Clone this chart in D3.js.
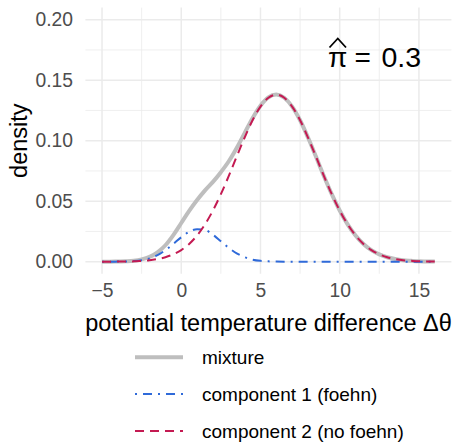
<!DOCTYPE html>
<html>
<head>
<meta charset="utf-8">
<script src="https://cdn.jsdelivr.net/npm/d3@7"></script>
<style>
  body { margin: 0; background: #fff; }
  svg text { font-family: "Liberation Sans", Arial, sans-serif; }
</style>
</head>
<body>
<div id="chart"></div>
<script>
// values (step 0.5 from -5 to 16)
const xs = d3.range(-5, 16.01, 0.5);
const component1 = [
  0, 0, 0.0001, 0.0002, 0.0005, 0.0012, 0.0027, 0.0054, 0.0095, 0.0147,
  0.0202, 0.0248, 0.0269, 0.0262, 0.0223, 0.0169, 0.0114, 0.0069, 0.0037, 0.0017,
  0.0007, 0.0003, 0.0001, 0, 0, 0, 0, 0, 0, 0,
  0, 0, 0, 0, 0, 0, 0, 0, 0, 0,
  0, 0, 0
];
const component2 = [
  0, 0, 0.0001, 0.0002, 0.0003, 0.0007, 0.0012, 0.0022, 0.0037, 0.0061,
  0.0096, 0.0147, 0.0217, 0.0309, 0.0423, 0.0558, 0.0709, 0.0869, 0.1026, 0.1169,
  0.1282, 0.1355, 0.1380, 0.1355, 0.1282, 0.1169, 0.1026, 0.0869, 0.0709, 0.0558,
  0.0423, 0.0309, 0.0217, 0.0147, 0.0096, 0.0061, 0.0037, 0.0022, 0.0012, 0.0007,
  0.0003, 0.0002, 0.0001
];
const mixture = [
  0, 0, 0.0002, 0.0004, 0.0008, 0.0019, 0.0040, 0.0078, 0.0136, 0.0220,
  0.0320, 0.0420, 0.0510, 0.0590, 0.0660, 0.0740, 0.0830, 0.0940, 0.1063, 0.1186,
  0.1289, 0.1358, 0.1381, 0.1355, 0.1282, 0.1169, 0.1026, 0.0869, 0.0709, 0.0558,
  0.0423, 0.0309, 0.0217, 0.0147, 0.0096, 0.0061, 0.0037, 0.0022, 0.0012, 0.0007,
  0.0003, 0.0002, 0.0001
];
const xTicks = [-5, 0, 5, 10, 15];
const xMinor = [-2.5, 2.5, 7.5, 12.5];
const yTicks = [0, 0.05, 0.10, 0.15, 0.20];
const yMinor = [0.025, 0.075, 0.125, 0.175];
const seriesNames = ['mixture', 'component 1 (foehn)', 'component 2 (no foehn)'];
const piHat = 0.3;

const width = 454, height = 442;
const tickColor = '#4d4d4d';
const gridColor = '#ebebeb';

const styles = [
  { color: '#bebebe', width: 4, dash: null },
  { color: '#2f6ad9', width: 2, dash: '2,6,9,6' },
  { color: '#c41a52', width: 2, dash: '9,6' }
];

const svg = d3.select('#chart').append('svg')
  .attr('width', width)
  .attr('height', height);

const x = d3.scaleLinear().domain([-6.05, 17.05]).range([85.4, 451.4]);
const y = d3.scaleLinear().domain([-0.01, 0.21]).range([273.8, 7.6]);

// grid
const grid = svg.append('g');
grid.selectAll('.ymin').data(yMinor).enter().append('line')
  .attr('x1', x.range()[0]).attr('x2', x.range()[1])
  .attr('y1', d => y(d)).attr('y2', d => y(d))
  .attr('stroke', gridColor).attr('stroke-width', 0.8);
grid.selectAll('.xmin').data(xMinor).enter().append('line')
  .attr('y1', y.range()[0]).attr('y2', y.range()[1])
  .attr('x1', d => x(d)).attr('x2', d => x(d))
  .attr('stroke', gridColor).attr('stroke-width', 0.8);
grid.selectAll('.ymaj').data(yTicks).enter().append('line')
  .attr('x1', x.range()[0]).attr('x2', x.range()[1])
  .attr('y1', d => y(d)).attr('y2', d => y(d))
  .attr('stroke', gridColor).attr('stroke-width', 1.5);
grid.selectAll('.xmaj').data(xTicks).enter().append('line')
  .attr('y1', y.range()[0]).attr('y2', y.range()[1])
  .attr('x1', d => x(d)).attr('x2', d => x(d))
  .attr('stroke', gridColor).attr('stroke-width', 1.5);

// axes, theme_minimal style: labels only
const yAxis = d3.axisLeft(y).tickValues(yTicks).tickFormat(d3.format('.2f')).tickSize(0).tickPadding(0);
svg.append('g')
  .attr('transform', 'translate(73,0)')
  .call(yAxis)
  .call(g => g.select('.domain').remove())
  .call(g => g.selectAll('text').attr('fill', tickColor).attr('font-size', 19.3)
    .attr('font-family', '"Liberation Sans", Arial, sans-serif'));

const xAxis = d3.axisBottom(x).tickValues(xTicks).tickFormat(d => d < 0 ? '\u2212' + Math.abs(d) : d).tickSize(0).tickPadding(0);
svg.append('g')
  .attr('transform', 'translate(0,283)')
  .call(xAxis)
  .call(g => g.select('.domain').remove())
  .call(g => g.selectAll('text').attr('fill', tickColor).attr('font-size', 19.3)
    .attr('font-family', '"Liberation Sans", Arial, sans-serif'));

// curves
const series = [mixture, component1, component2];
const line = d3.line()
  .x((d, i) => x(xs[i]))
  .y(d => y(d))
  .curve(d3.curveMonotoneX);

series.forEach((s, i) => {
  svg.append('path')
    .datum(s)
    .attr('d', line)
    .attr('fill', 'none')
    .attr('stroke', styles[i].color)
    .attr('stroke-width', styles[i].width)
    .attr('stroke-dasharray', styles[i].dash);
});

// titles
svg.append('text')
  .attr('x', 268.5).attr('y', 331)
  .attr('text-anchor', 'middle')
  .attr('font-size', 23.5)
  .text('potential temperature difference \u0394\u03b8');

svg.append('text')
  .attr('transform', 'translate(27,140.7) rotate(-90)')
  .attr('text-anchor', 'middle')
  .attr('font-size', 23.5)
  .text('density');

// pi hat annotation
const ann = svg.append('g');
ann.append('text')
  .attr('x', 328).attr('y', 66.7)
  .attr('font-size', 28)
  .attr('textLength', 18.5)
  .text('\u03c0');
ann.append('path')
  .attr('d', 'M329.5,47.5 L337.8,38.5 L346,47.5')
  .attr('fill', 'none').attr('stroke', '#000').attr('stroke-width', 1.8);
ann.append('text')
  .attr('x', 354.5).attr('y', 66.7)
  .attr('font-size', 28)
  .text('=');
ann.append('text')
  .attr('x', 381.5).attr('y', 66.7)
  .attr('font-size', 28.5)
  .text(piHat);

// legend
const legend = svg.append('g');
const legY = [357.3, 394, 431];
seriesNames.forEach((name, i) => {
  legend.append('line')
    .attr('x1', 135).attr('x2', 183)
    .attr('y1', legY[i]).attr('y2', legY[i])
    .attr('stroke', styles[i].color)
    .attr('stroke-width', styles[i].width)
    .attr('stroke-dasharray', styles[i].dash);
  legend.append('text')
    .attr('x', 202).attr('y', legY[i] + 6.8)
    .attr('font-size', 19)
    .text(name);
});
</script>
</body>
</html>
